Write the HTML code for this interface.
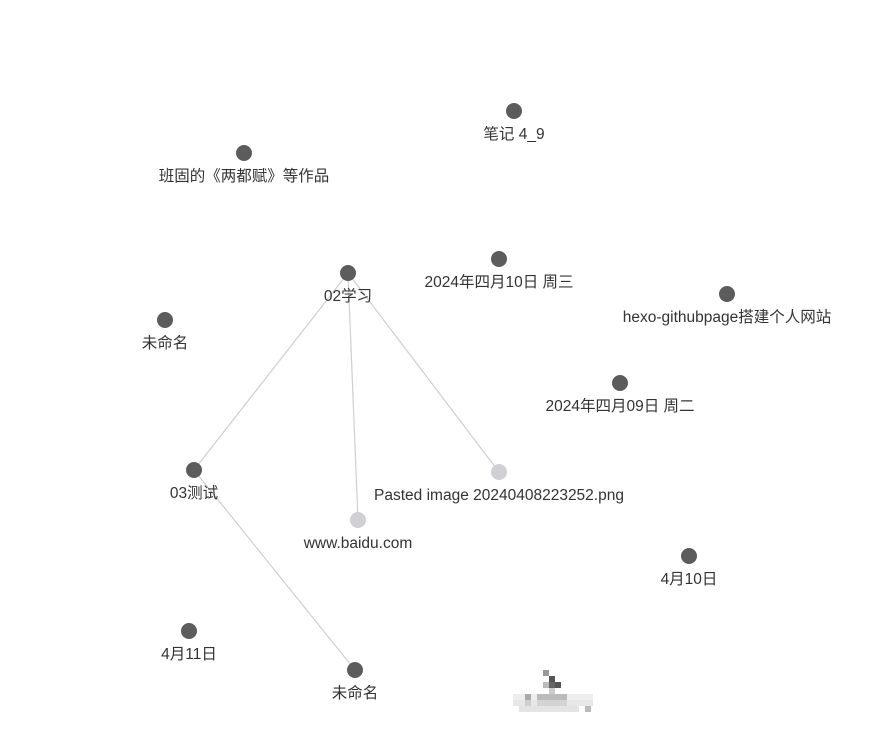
<!DOCTYPE html>
<html><head><meta charset="utf-8"><style>
html,body{margin:0;padding:0;background:#fff;}
svg{display:block;}
text{font-family:"Liberation Sans","Noto Sans CJK SC",sans-serif;font-size:15.5px;fill:#333;text-anchor:middle;}
</style></head><body>
<svg id="g" width="881" height="754" xmlns="http://www.w3.org/2000/svg">
<g id="edges"></g><g id="nodes"></g>
<g>
<rect x="543" y="670" width="6" height="6" fill="#999"/>
<rect x="549" y="676" width="6" height="6" fill="#555"/>
<rect x="555" y="682" width="6" height="6" fill="#555"/>
<rect x="549" y="682" width="6" height="6" fill="#666"/>
<rect x="543" y="682" width="6" height="6" fill="#bbb"/>
<rect x="549" y="688" width="6" height="6" fill="#ccc"/>
<rect x="513" y="694" width="80" height="6" fill="#eee"/>
<rect x="525" y="694" width="6" height="12" fill="#aaa"/>
<rect x="537" y="694" width="30" height="12" fill="#bbb"/>
<rect x="513" y="700" width="80" height="6" fill="#ddd" opacity="0.7"/>
<rect x="519" y="706" width="60" height="6" fill="#e4e4e4"/>
<rect x="585" y="706" width="6" height="6" fill="#bbb"/>
</g>
</svg>
<script>
const labels=["笔记 4_9","班固的《两都赋》等作品","02学习","2024年四月10日 周三","hexo-githubpage搭建个人网站","未命名","2024年四月09日 周二","03测试","Pasted image 20240408223252.png","www.baidu.com","4月10日","4月11日","未命名"];
const xs=[514,244,348,499,727,165,620,194,499,358,689,189,355];
const ys=[111,153,273,259,294,320,383,470,472,520,556,631,670];
const kinds=[0,0,0,0,0,0,0,0,1,1,0,0,0];
const edgeFrom=[2,2,2,7];
const edgeTo=[7,9,8,12];
const ns="http://www.w3.org/2000/svg";
const E=document.getElementById('edges'),N=document.getElementById('nodes');
for(let i=0;i<edgeFrom.length;i++){
 const l=document.createElementNS(ns,'line');
 l.setAttribute('x1',xs[edgeFrom[i]]);l.setAttribute('y1',ys[edgeFrom[i]]);
 l.setAttribute('x2',xs[edgeTo[i]]);l.setAttribute('y2',ys[edgeTo[i]]);
 l.setAttribute('stroke','#cfcfcf');l.setAttribute('stroke-width','1.2');
 
 
 E.appendChild(l);
}
for(let i=0;i<labels.length;i++){
 const c=document.createElementNS(ns,'circle');
 c.setAttribute('cx',xs[i]);c.setAttribute('cy',ys[i]);c.setAttribute('r',8);
 c.setAttribute('fill',kinds[i]?'#d0d0d4':'#5c5c5c');
 
 
 N.appendChild(c);
 const t=document.createElementNS(ns,'text');
 t.setAttribute('x',xs[i]);t.setAttribute('y',ys[i]+28);
 t.textContent=labels[i];
 
 
 N.appendChild(t);
}
</script>
</body></html>
